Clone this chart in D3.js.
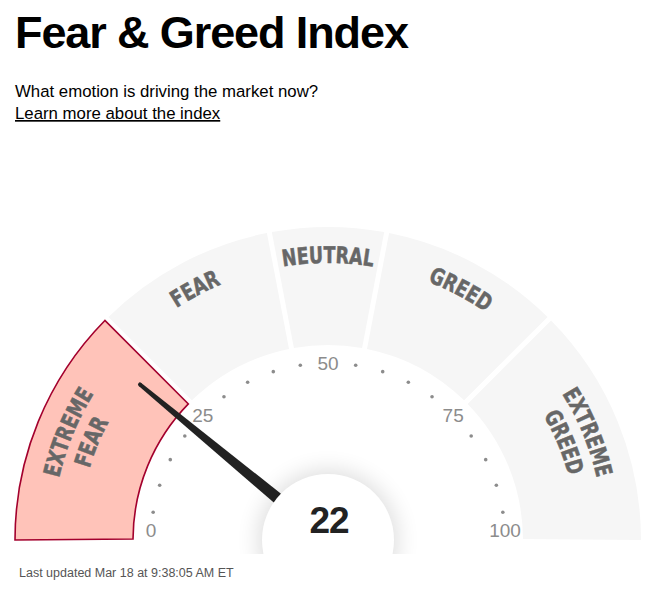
<!DOCTYPE html>
<html>
<head>
<meta charset="utf-8">
<script src="https://cdn.jsdelivr.net/npm/d3@7"></script>
<style>
  body { margin: 0; background: #fff; }
  svg { display: block; font-family: "Liberation Sans", Arial, Helvetica, sans-serif; }
  .zone { font-family: "DejaVu Sans Condensed", "DejaVu Sans", sans-serif; font-weight: bold; }
</style>
</head>
<body>
<svg id="chart" width="657" height="589"></svg>
<script>
(function () {
    'use strict';

    // values
    var indexValue = 22;
    var zoneNames = [["EXTREME", "FEAR"], ["FEAR"], ["NEUTRAL"], ["GREED"], ["EXTREME", "GREED"]];
    var zoneBreaks = [0, 25, 44, 56, 75, 100];
    var tickValues = d3.range(0, 101, 5);
    var tickLabels = [0, 25, 50, 75, 100];
    var updatedText = "Last updated Mar 18 at 9:38:05 AM ET";

    var svg = d3.select("#chart");
    var cx = 328, cy = 540;
    var rOuter = 313, rInner = 195, pad = 0.016;

    // 0 = top, clockwise (d3.arc convention)
    var angle = d3.scaleLinear().domain([0, 100]).range([-Math.PI / 2, Math.PI / 2]);

    function pt(v, r) {
        var a = angle(v);
        return [cx + r * Math.sin(a), cy - r * Math.cos(a)];
    }

    // header
    svg.append("text")
        .attr("x", 15).attr("y", 48)
        .style("font-size", "45px").style("font-weight", "bold")
        .style("letter-spacing", "-1.1px")
        .attr("fill", "#000")
        .text("Fear & Greed Index");
    svg.append("text")
        .attr("x", 15).attr("y", 97)
        .style("font-size", "16.8px")
        .attr("fill", "#000")
        .text("What emotion is driving the market now?");
    svg.append("text")
        .attr("x", 15).attr("y", 119)
        .style("font-size", "16.8px")
        .style("text-decoration", "underline")
        .attr("fill", "#000")
        .text("Learn more about the index");

    var defs = svg.append("defs");
    var blur = defs.append("filter").attr("id", "soft")
        .attr("x", "-50%").attr("y", "-50%").attr("width", "200%").attr("height", "200%");
    blur.append("feGaussianBlur").attr("stdDeviation", 11);
    defs.append("clipPath").attr("id", "hubclip")
        .append("rect")
        .attr("x", cx - 150).attr("y", cy - 150)
        .attr("width", 300).attr("height", 164);

    var gauge = svg.append("g");

    var arc = d3.arc()
        .innerRadius(rInner)
        .outerRadius(rOuter)
        .padAngle(pad)
        .padRadius(rOuter);

    var zones = zoneNames.map(function (name, i) {
        var s = angle(zoneBreaks[i]), e = angle(zoneBreaks[i + 1]);
        if (i === 0) s -= pad / 2;
        if (i === zoneNames.length - 1) e += pad / 2;
        return {
            name: name, i: i,
            lo: zoneBreaks[i], hi: zoneBreaks[i + 1],
            startAngle: s, endAngle: e,
            active: indexValue >= zoneBreaks[i] && indexValue < zoneBreaks[i + 1]
        };
    });

    gauge.selectAll("path.seg")
        .data(zones)
        .enter()
        .append("path")
        .attr("class", "seg")
        .attr("transform", "translate(" + cx + "," + cy + ")")
        .attr("d", arc)
        .attr("fill", function (d) { return d.active ? "#ffc3b9" : "#f6f6f6"; })
        .attr("stroke", function (d) { return d.active ? "#a3002d" : "none"; })
        .attr("stroke-width", 1.6);

    // zone names follow arcs, squeezed to a condensed look
    var lineRadii = { 1: [277], 2: [276, 249] };
    var squeeze = 0.84;
    zones.forEach(function (d) {
        var radii = lineRadii[d.name.length];
        var label = gauge.append("text")
            .attr("class", "zone")
            .style("font-size", "23px")
            .attr("fill", "#676767")
            .attr("stroke", "#676767")
            .attr("stroke-width", 0.5);
        d.name.forEach(function (line, j) {
            var p = d3.path();
            p.arc(cx, cy, radii[j], angle(d.lo) - Math.PI / 2, angle(d.hi) - Math.PI / 2, false);
            defs.append("path").attr("id", "zp" + d.i + "_" + j).attr("d", p.toString());
            var tp = label.append("textPath")
                .attr("href", "#zp" + d.i + "_" + j)
                .attr("startOffset", "50%")
                .attr("text-anchor", "middle")
                .text(line);
            var w = tp.node().getComputedTextLength();
            tp.attr("textLength", (w * squeeze).toFixed(1))
                .attr("lengthAdjust", "spacingAndGlyphs");
        });
    });

    // scale dots and labels
    var rTick = 177;
    gauge.selectAll("circle.dot")
        .data(tickValues.filter(function (v) { return tickLabels.indexOf(v) < 0; }))
        .enter()
        .append("circle")
        .attr("class", "dot")
        .attr("cx", function (v) { return pt(v, rTick)[0]; })
        .attr("cy", function (v) { return pt(v, rTick)[1]; })
        .attr("r", 1.8)
        .attr("fill", "#8c8c8c");

    gauge.selectAll("text.tick")
        .data(tickLabels)
        .enter()
        .append("text")
        .attr("class", "tick")
        .attr("x", function (v) { return pt(v, rTick)[0]; })
        .attr("y", function (v) { return Math.min(pt(v, rTick)[1], cy - 10); })
        .attr("dy", "0.36em")
        .attr("text-anchor", "middle")
        .style("font-size", "19px")
        .attr("fill", "#8c8c8c")
        .text(function (v) { return v; });

    // needle
    var needleLen = 244;
    var needle = gauge.append("g")
        .attr("transform", "translate(" + cx + "," + cy + ") rotate(" + (angle(indexValue) * 180 / Math.PI) + ")");
    needle.append("path")
        .attr("d", "M-7,0 L-2," + (-needleLen) + " L2," + (-needleLen) + " L7,0 Z")
        .attr("fill", "#222");
    needle.append("circle")
        .attr("cy", -needleLen)
        .attr("r", 2)
        .attr("fill", "#222");

    // center hub
    var hub = gauge.append("g").attr("clip-path", "url(#hubclip)");
    hub.append("circle")
        .attr("cx", cx).attr("cy", cy).attr("r", 70)
        .attr("fill", "#000").attr("opacity", 0.13)
        .attr("filter", "url(#soft)");
    hub.append("circle")
        .attr("cx", cx).attr("cy", cy).attr("r", 66)
        .attr("fill", "#fff");

    gauge.append("text")
        .attr("x", cx + 1).attr("y", cy - 7)
        .attr("text-anchor", "middle")
        .style("font-size", "37px").style("font-weight", "bold")
        .style("letter-spacing", "-1px")
        .attr("fill", "#222")
        .text(indexValue);

    svg.append("text")
        .attr("x", 19).attr("y", 577)
        .style("font-size", "12.5px")
        .attr("fill", "#555")
        .text(updatedText);
}());
</script>
</body>
</html>
